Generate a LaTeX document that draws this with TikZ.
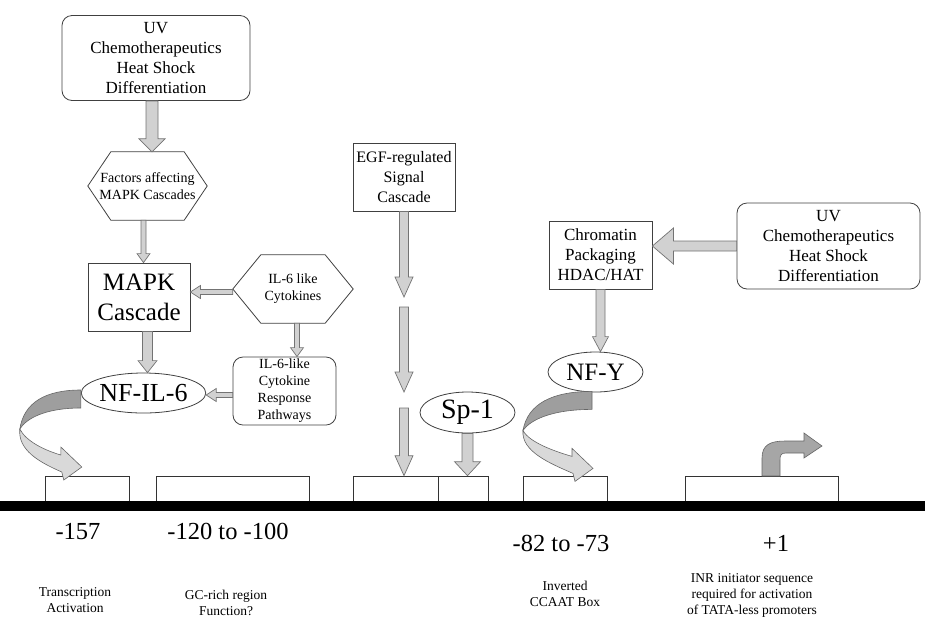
\documentclass[tikz,border=0pt]{standalone}
\usepackage{fontspec}
\setmainfont{Liberation Serif}
\usetikzlibrary{calc,shapes.geometric}
\tikzset{
  bx/.style={draw=black!75, line width=0.8pt, fill=white, inner sep=0pt, align=center},
  rbx/.style={bx, rounded corners=10pt},
  ell/.style={draw=black!75, line width=0.8pt, ellipse, inner sep=0pt, fill=white},
  hexnode/.style={inner sep=0pt, align=center},
  blk/.style={draw=black!55, fill=black!18, line width=0.7pt, line join=miter},
  rib/.style={draw=black!60, line width=0.6pt},
  dnabox/.style={draw=black!80, line width=0.7pt, fill=white, minimum height=26pt, inner sep=0pt},
  big/.style={font=\fontsize{24.5}{28}\selectfont, inner sep=0pt, anchor=base},
  small/.style={font=\fontsize{13.5}{16}\selectfont, inner sep=0pt, align=center},
}
% vertical block arrow: from (#1) down to (#2), x of #1; shaft half, head half, head length
\newcommand\blkdown[5]{\path[blk] let \p1=(#1),\p2=(#2) in
  (\x1-#3pt,\y1) -- (\x1-#3pt,\y2+#5pt) -- (\x1-#4pt,\y2+#5pt) -- (\x1,\y2) --
  (\x1+#4pt,\y2+#5pt) -- (\x1+#3pt,\y2+#5pt) -- (\x1+#3pt,\y1) -- cycle;}
% horizontal block arrow: from (#1) leftwards to (#2), y of #1
\newcommand\blkleft[5]{\path[blk] let \p1=(#1),\p2=(#2) in
  (\x1,\y1+#3pt) -- (\x2+#5pt,\y1+#3pt) -- (\x2+#5pt,\y1+#4pt) -- (\x2,\y1) --
  (\x2+#5pt,\y1-#4pt) -- (\x2+#5pt,\y1-#3pt) -- (\x1,\y1-#3pt) -- cycle;}
\newcommand\hexa[2]{\draw[black!75, line width=0.8pt]
  ($(#1.north west)+(#2,0)$) -- ($(#1.north east)+(-#2,0)$) -- (#1.east) --
  ($(#1.south east)+(-#2,0)$) -- ($(#1.south west)+(#2,0)$) -- (#1.west) -- cycle;}
% twisted ribbon arrow, origin = start point, #1 = leftmost x offset
\newcommand\ribbon[1]{%
  \path[rib, fill=black!38] (0,-9) .. controls ({0.57*(#1)},-9) and ({0.93*(#1)},3) .. (#1,30)
     .. controls ({0.9*(#1)},20) and ({0.6*(#1)},9) .. (0,9) -- cycle;
  \path[rib, fill=black!15] (#1,30) .. controls ({(#1)-2},51) and (-42,63) .. (-19,73)
     -- (-17,81) -- (1,68) -- (-20,48) -- (-20,56)
     .. controls (-37,51) and ({(#1)+6},42) .. (#1,30) -- cycle;}
\begin{document}
\begin{tikzpicture}[x=1pt,y=-1pt]
\useasboundingbox (0,0) rectangle (925,625);

% ---------- left column ----------
\node[rbx, minimum width=188pt, minimum height=85pt, font=\fontsize{17}{20}\selectfont]
  (uv1) at (156,58) {UV\\Chemotherapeutics\\Heat Shock\\Differentiation};
\node[hexnode, minimum width=119pt, minimum height=68pt, font=\fontsize{14}{17}\selectfont]
  (hex1) at (147.5,186) {Factors affecting\\MAPK Cascades};
\hexa{hex1}{23}
\node[bx, minimum width=102pt, minimum height=68pt, font=\fontsize{25}{30}\selectfont]
  (mapk) at (139,297) {MAPK\\Cascade};
\node[hexnode, minimum width=120pt, minimum height=68pt, font=\fontsize{14}{17}\selectfont]
  (hex2) at (293,289) {IL-6 like\\Cytokines};
\hexa{hex2}{28}
\node[rbx, minimum width=103pt, minimum height=68pt, font=\fontsize{14}{17}\selectfont]
  (il6) at (284.5,391) {IL-6-like\\Cytokine\\Response\\Pathways};
\node[ell, minimum width=93pt, minimum height=40pt, font=\fontsize{26}{28}\selectfont]
  (nfil6) at (143.5,393) {NF-IL-6};

% ---------- middle ----------
\node[bx, minimum width=102pt, minimum height=68pt, font=\fontsize{16}{20}\selectfont]
  (egf) at (404,177) {EGF-regulated\\Signal\\Cascade};
\node[ell, minimum width=95pt, minimum height=41pt, font=\fontsize{28}{30}\selectfont]
  (sp1) at (467.5,412.5) {Sp-1};

% ---------- right ----------
\node[bx, minimum width=103pt, minimum height=68pt, font=\fontsize{17}{20}\selectfont]
  (chrom) at (600.5,255) {Chromatin\\Packaging\\HDAC/HAT};
\node[rbx, minimum width=183pt, minimum height=86pt, font=\fontsize{17}{20}\selectfont]
  (uv2) at (828.5,246) {UV\\Chemotherapeutics\\Heat Shock\\Differentiation};
\node[ell, minimum width=95pt, minimum height=40pt, font=\fontsize{25}{28}\selectfont]
  (nfy) at (595.5,372) {NF-Y};

% ---------- DNA ----------
\node[dnabox, minimum width=84pt]  (b1) at (87,489) {};
\node[dnabox, minimum width=153pt] (b2) at (232.5,489) {};
\node[dnabox, minimum width=85pt]  (b3) at (395.5,489) {};
\node[dnabox, minimum width=50pt]  (b4) at (463,489) {};
\node[dnabox, minimum width=84pt]  (b5) at (565,489) {};
\node[dnabox, minimum width=153pt] (b6) at (761.5,489) {};
\fill[black] (0,501) rectangle (925,511);

% ---------- arrows ----------
\blkdown{$(uv1.south)+(-4,0)$}{hex1.north}{6}{13}{13}
\blkdown{$(hex1.south)+(-4,0)$}{mapk.north}{2.5}{6.5}{9}
\blkdown{$(mapk.south)+(8.5,0)$}{nfil6.north}{5}{9.5}{12}
\blkleft{$(hex2.west)+(0,3)$}{mapk.east}{2.5}{6.5}{10}
\blkdown{$(hex2.south)+(4,0)$}{il6.north}{2.5}{6.5}{9}
\blkleft{$(il6.west)+(0,4)$}{nfil6.east}{2.5}{6.5}{10}

\coordinate (e1) at (404,297);
\coordinate (e2) at (404,307);
\coordinate (e3) at (404,392);
\coordinate (e4) at (404,408);
\blkdown{egf.south}{e1}{4.5}{9}{20}
\blkdown{e2}{e3}{4.5}{9}{20}
\blkdown{e4}{egf |- b3.north}{4.5}{9}{20}
\blkdown{sp1.south}{b4.north}{5.5}{13}{14}

\blkleft{uv2.west}{chrom.east}{5}{18}{21}
\blkdown{chrom.south}{nfy.north}{4.5}{8}{15}

% ribbon arrows
\begin{scope}[shift={($(nfil6.west)+(0,6)$)}]
  \ribbon{-61}
\end{scope}
\begin{scope}[shift={($(nfy.south)+(-3.5,8)$)}]
  \ribbon{-69}
\end{scope}

% bent arrow at +1
\path[rib, fill=black!35] (762,476) -- (762,458) .. controls (762,445) and (770,441) .. (785,441)
  -- (804,441) -- (804,433) -- (822,446) -- (804,458) -- (804,453) -- (786,453)
  .. controls (781,453) and (780,455) .. (780,460) -- (780,476) -- cycle;

% ---------- labels ----------
\node[big] (p157) at (78,539) {-157};
\node[big] (p120) at (228,539) {-120 to -100};
\node[big] (p82)  at (561,551) {-82 to -73};
\node[big] (p1)   at (776,551) {+1};

\node[small] (t1) at (75,600) {Transcription\\Activation};
\node[small] (t2) at (226,603) {GC-rich region\\Function?};
\node[small] (t3) at (565,594) {Inverted\\CCAAT Box};
\node[small] (t4) at (752,595) {INR initiator sequence\\required for activation\\of TATA-less promoters};
\end{tikzpicture}
\end{document}
